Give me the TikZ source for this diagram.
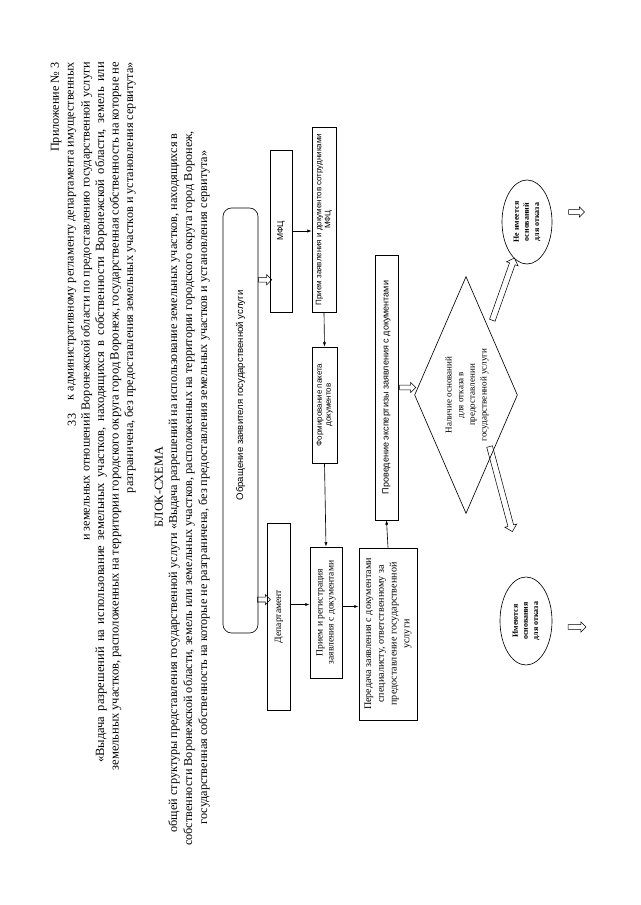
\documentclass[tikz,border=0pt]{standalone}
\usepackage{fontspec}
\setmainfont{Liberation Serif}
\setsansfont{Liberation Sans}
\usetikzlibrary{arrows.meta,calc,shapes.geometric,shapes.arrows}

\def\unitlen{0.033cm}

\begin{document}
\begin{tikzpicture}[x=\unitlen, y=-\unitlen, rotate=90, transform shape,
    txt/.style = {inner sep=0pt, font=\fontsize{11.5}{13.5}\selectfont},
    wide/.style = {txt, font=\fontsize{11.8}{13.5}\selectfont},
    ttl/.style = {inner sep=0pt, font=\fontsize{11.5}{13.5}\selectfont},
    flow/.style = {draw, line width=0.6pt, inner sep=0pt, align=center, font=\sffamily\fontsize{7.5}{8.5}\selectfont},
    sflow/.style = {flow, font=\fontsize{9}{10.5}\selectfont},
    oval/.style = {flow, ellipse, font=\bfseries\fontsize{7.5}{9.5}\selectfont},
    arr/.style = {line width=0.6pt, -{Latex[length=4pt,width=3pt]}},
    hollow/.style = {single arrow, draw, line width=0.5pt, inner xsep=0pt, inner ysep=2pt,
      single arrow head extend=2.5pt, minimum height=13*\unitlen}]
  \useasboundingbox (0,0) rectangle (905,640);

  % Heading
  \node[txt, anchor=east] (app) at (843,56) {Приложение № 3};
  \node[txt] (page) at (485,72) {33};
  \node[txt, anchor=east] (head-1) at (843,72) {к административному регламенту департамента имущественных};
  \node[txt, anchor=east] (head-2) at (843,86.5) {и земельных отношений Воронежской области по предоставлению государственной услуги};
  \node[wide, anchor=east] (head-3) at (843,101) {\makebox[658pt][s]{«Выдача разрешений на использование земельных участков, находящихся в собственности Воронежской области, земель или}};
  \node[wide, anchor=east] (head-4) at (843,115.5) {\makebox[665pt][s]{земельных участков, расположенных на территории городского округа город Воронеж, государственная собственность на которые не}};
  \node[txt, anchor=east] (head-5) at (843,130) {разграничена, без предоставления земельных участков и установления сервитута»};

  % Title
  \node[ttl] (title) at (418,159) {БЛОК-СХЕМА};
  \node[ttl] (title-1) at (422,174) {общей структуры представления государственной услуги «Выдача разрешений на использование земельных участков, находящихся в};
  \node[ttl] (title-2) at (416.5,189) {собственности Воронежской области, земель или земельных участков, расположенных на территории городского округа город Воронеж,};
  \node[ttl] (title-3) at (417.5,204) {государственная собственность на которые не разграничена, без предоставления земельных участков и установления сервитута»};

  % Blocks
  \node[flow, rounded corners=8pt, font=\sffamily\fontsize{9}{10}\selectfont, minimum width=425*\unitlen, minimum height=35*\unitlen] (appeal) at (484.5,240.5) {\hspace*{47pt}Обращение заявителя государственной услуги};
  \node[flow, font=\sffamily\fontsize{8}{9}\selectfont, minimum width=162*\unitlen, minimum height=22*\unitlen] (mfc) at (674,281) {МФЦ};
  \node[sflow, minimum width=187*\unitlen, minimum height=23*\unitlen] (dep) at (288.5,279) {Департамент};
  \node[flow, minimum width=185*\unitlen, minimum height=24*\unitlen] (mfc-recv) at (685.5,324) {Прием заявления и документов сотрудниками\\МФЦ};
  \node[flow, minimum width=116*\unitlen, minimum height=25*\unitlen] (pack) at (500,324.5) {Формирование пакета\\документов};
  \node[sflow, line width=0.9pt, minimum width=131*\unitlen, minimum height=32*\unitlen] (reg) at (292.5,326) {Прием и регистрация\\заявления с документами};
  \node[sflow, line width=0.9pt, font=\fontsize{9.5}{12}\selectfont, minimum width=172*\unitlen, minimum height=58*\unitlen] (pass) at (271,388) {Передача заявления с документами\\специалисту, ответственному за\\предоставление государственной\\услуги};
  \node[flow, font=\sffamily\fontsize{8.5}{10}\selectfont, minimum width=265*\unitlen, minimum height=23*\unitlen] (check) at (517.5,386.5) {Проведение экспертизы заявления с документами};
  \node[sflow, draw=none, diamond, shape aspect=2.3, minimum width=236*\unitlen, minimum height=102*\unitlen] (dec) at (510,466) {};
  \draw[line width=0.6pt] (dec.north) -- (dec.east) -- (dec.south) -- (dec.west) -- cycle;
  \node[sflow, draw=none, font=\fontsize{8.5}{11}\selectfont] (dec-text) at (510,467) {Наличие оснований\\для отказа в\\предоставлении\\государственной услуги};
  \node[oval, minimum width=84*\unitlen, minimum height=50*\unitlen] (no-ground) at (683,527) {Не имеется\\оснований\\для отказа};
  \node[oval, minimum width=88*\unitlen, minimum height=52*\unitlen] (ground) at (284,526) {Имеются\\основания\\для отказа};

  % Connections
  \coordinate (dep-out) at ($(dep.south)+(12,0)$);
  \coordinate (reg-out) at ($(reg.south)+(6,0)$);
  \draw[arr] (mfc.south) -- (mfc.south |- mfc-recv.north);
  \draw[arr] (mfc-recv.west) -- (pack.east);
  \draw[arr] (pack.west) -- (reg.east);
  \draw[arr] (dep-out) -- (dep-out |- reg.north);
  \draw[arr] (reg-out) -- (reg-out |- pass.north);
  \draw[arr] (pass.east) -- (check.west);

  % Hollow arrows
  \coordinate (mfc-in) at ($(mfc.north west)!0.2!(mfc.north east)$);
  \coordinate (dep-in) at ($(dep.north west)!0.59!(dep.north east)$);
  \path (mfc-in |- appeal.south) -- node[hollow, rotate=-90] {} (mfc-in);
  \path (dep-in |- appeal.south) -- node[hollow, rotate=-90] {} (dep-in);
  \path (check.south) -- node[hollow, rotate=-90, minimum height=16*\unitlen] {} (check.south |- dec.north);
  \path (dec) -- node[hollow, rotate=-19.5, pos=0.55, inner ysep=2.5pt, single arrow head extend=3pt, minimum height=66*\unitlen] {} (no-ground);
  \path ($(dec)+(0,10)$) -- node[hollow, rotate=-165, pos=0.41, inner ysep=2.5pt, single arrow head extend=3pt, minimum height=88*\unitlen] {} ($(ground)+(0,10)$);
  \path ($(no-ground.south)+(10,0)$) -- node[hollow, rotate=-90, minimum height=16*\unitlen] {} ($(no-ground.south)+(10,46)$);
  \path ($(ground.south)+(-6,0)$) -- node[hollow, rotate=-90, minimum height=18*\unitlen] {} ($(ground.south)+(-6,47)$);
\end{tikzpicture}
\end{document}
